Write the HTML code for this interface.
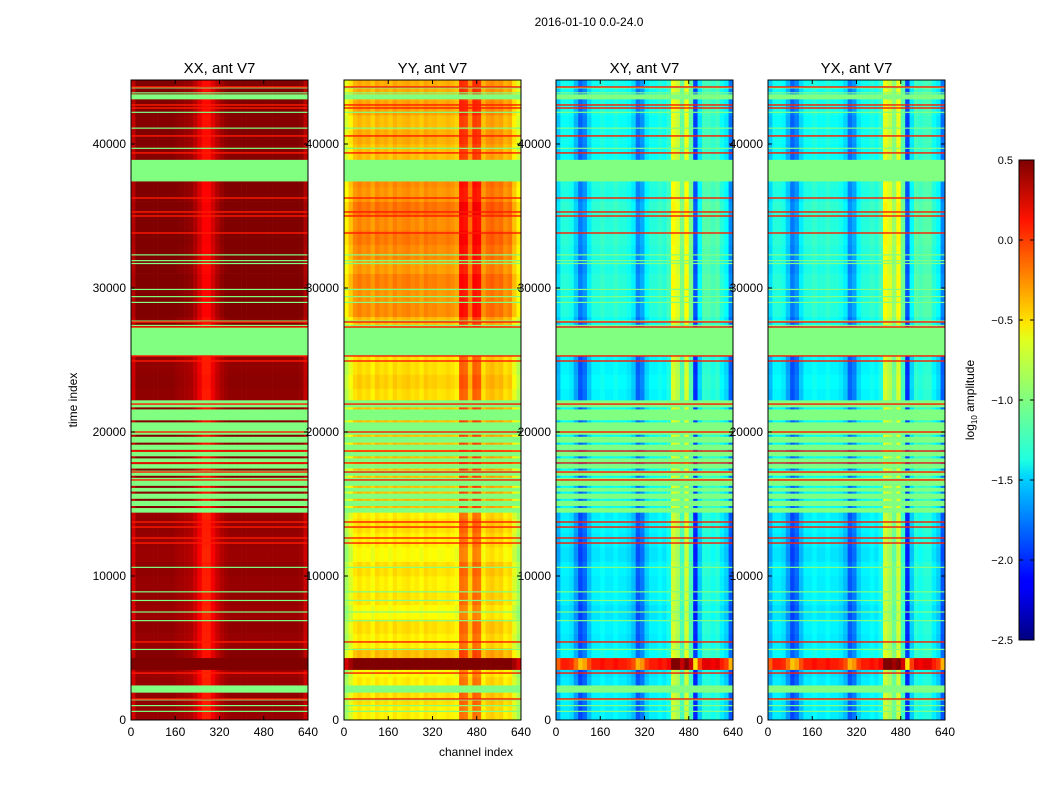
<!DOCTYPE html>
<html><head><meta charset="utf-8">
<style>
body{margin:0;background:#fff;}
svg{display:block;font-family:"Liberation Sans",sans-serif;}
</style></head>
<body>
<svg id="fig" width="1050" height="800" xmlns="http://www.w3.org/2000/svg">
<defs>
<linearGradient id="jet" x1="0" y1="1" x2="0" y2="0">
<stop offset="0" stop-color="#00007f"/><stop offset="0.11" stop-color="#0000ff"/>
<stop offset="0.125" stop-color="#0000ff"/><stop offset="0.34" stop-color="#00d5ff"/>
<stop offset="0.375" stop-color="#1fffe0"/><stop offset="0.5" stop-color="#80ff80"/>
<stop offset="0.625" stop-color="#e0ff1f"/><stop offset="0.66" stop-color="#ffe600"/>
<stop offset="0.875" stop-color="#ff1300"/><stop offset="1" stop-color="#7f0000"/>
</linearGradient>
</defs>
<text x="589" y="26" font-size="12" text-anchor="middle">2016-01-10 0.0-24.0</text>
<text x="476" y="756" font-size="12" text-anchor="middle">channel index</text>
<text x="0" y="0" font-size="12" text-anchor="middle" transform="translate(77,400) rotate(-90)">time index</text>
<g id="panels"></g>
<g>
<rect x="1019" y="160" width="15" height="480" fill="url(#jet)" stroke="#000" stroke-width="1"/>
<g id="cbticks"></g>
<text x="0" y="0" font-size="12" text-anchor="middle" transform="translate(974,400) rotate(-90)">log<tspan font-size="8" dy="3">10</tspan><tspan dy="-3"> amplitude</tspan></text>
</g>
</svg>
<script>
const panelTitles = ["XX, ant V7","YY, ant V7","XY, ant V7","YX, ant V7"];
const xTicks = [0,160,320,480,640];
const yTicks = [0,10000,20000,30000,40000];
const cbTicks = [0.5,0.0,-0.5,-1.0,-1.5,-2.0,-2.5];
// channel profiles, 40 bins of 16 channels (log10 amplitude)
const profXX = [0.3,0.48,0.48,0.48,0.48,0.48,0.48,0.48,0.48,0.48,0.45,0.44,0.42,0.4,0.32,0.2,0.08,0.08,0.2,0.32,0.4,0.45,0.48,0.48,0.48,0.48,0.48,0.48,0.48,0.48,0.48,0.48,0.48,0.48,0.48,0.48,0.48,0.48,0.46,0.32];
const profYY = [-0.75,-0.6,-0.45,-0.4,-0.45,-0.42,-0.5,-0.4,-0.45,-0.42,-0.48,-0.4,-0.45,-0.42,-0.4,-0.45,-0.42,-0.48,-0.4,-0.44,-0.42,-0.46,-0.45,-0.42,-0.45,-0.5,-0.05,-0.08,-0.35,-0.05,-0.08,-0.45,-0.35,-0.32,-0.38,-0.35,-0.45,-0.4,-0.6,-0.75];
const profXY = [-1.55,-1.35,-1.35,-1.4,-1.6,-1.85,-1.75,-1.5,-1.35,-1.35,-1.3,-1.35,-1.35,-1.3,-1.35,-1.35,-1.4,-1.5,-1.8,-1.7,-1.45,-1.35,-1.35,-1.3,-1.35,-1.25,-0.7,-0.8,-1.1,-0.7,-1.1,-1.95,-1.45,-1.2,-1.2,-1.25,-1.2,-1.35,-1.45,-1.8];
const profYX = [-1.55,-1.35,-1.35,-1.4,-1.6,-1.85,-1.75,-1.5,-1.35,-1.35,-1.3,-1.35,-1.35,-1.3,-1.35,-1.35,-1.4,-1.5,-1.8,-1.7,-1.45,-1.35,-1.35,-1.3,-1.35,-1.25,-0.7,-0.8,-1.0,-0.7,-1.15,-1.95,-1.45,-1.2,-1.25,-1.2,-1.2,-1.35,-1.45,-1.8];
const gains = [0.3,1.0,0.5,0.5];
// row offsets per 1000 time samples (45 bins)
const rowOff = [-0.15,-0.1,-0.15,-0.2,0,-0.15,-0.1,-0.2,-0.12,-0.15,-0.1,-0.2,-0.15,-0.1,-0.15,-0.15,-0.15,-0.15,-0.15,-0.15,-0.15,-0.15,-0.1,-0.05,-0.1,-0.1,0,0,0.15,0.12,0.18,0.1,0.15,0.2,0.15,0.22,0.12,0.15,0,0,0.05,0.0,0.08,0.05,0.05];
const flagBands = [[37400,38900],[25300,27300],[1900,2400],[43100,43450]];
const quietBands = [[14400,22200]];
const hotBands = [[3500,4300]];
const hotBoost = [1.0,1.0,1.4,1.4];
const quietDataLines = [21650,20750,19750,19200,18700,18250,17850,17400,16900,16200,15800,15300,14800];
const redLines = [43960,42710,42500,40560,39380,36250,35280,35000,33820,27640,27290,25280,24930,21940,20000,18680,17850,17220,16670,13750,13400,12640,12290,5420,3260,1460];
const greenLines = [43900,43550,42200,41100,39700,32300,31900,31700,29900,29400,29000,27700,27400,10600,8900,8300,7500,6900,4900,1400,1000,600];
const TMAX = 44444, CH = 640;
const lefts = [131,344,556,768], PW = 177, TOP = 80, PH = 640;
const profs = [profXX,profYY,profXY,profYX];
const NS = "http://www.w3.org/2000/svg";
function ys(t){return TOP+PH - t/TMAX*PH;}
function xs(i,c){return lefts[i] + c/CH*PW;}
function jet(v){
  let x=(v+2.5)/3; x=Math.max(0,Math.min(1,x));
  const cl=a=>Math.round(255*Math.max(0,Math.min(1,a)));
  return `rgb(${cl(1.5-Math.abs(4*x-3))},${cl(1.5-Math.abs(4*x-2))},${cl(1.5-Math.abs(4*x-1))})`;
}
function el(tag,attrs,parent){const e=document.createElementNS(NS,tag);for(const k in attrs)e.setAttribute(k,attrs[k]);parent.appendChild(e);return e;}
const root=document.getElementById('panels');
function rowRects(g,i,t0,t1,valFn){
  const prof=profs[i], nb=prof.length;
  for(let b=0;b<nb;b++){
    const c0=b*CH/nb, c1=(b+1)*CH/nb;
    const r=el('rect',{x:xs(i,c0),y:ys(t1),width:xs(i,c1)-xs(i,c0)+0.3,height:Math.max(1,ys(t0)-ys(t1)+0.3),fill:jet(valFn(prof[b]))},g);
    
    
  }
}
function fullLine(g,i,t,h,color,name){
  const r=el('rect',{x:xs(i,0),y:ys(t)-h/2,width:PW,height:h,fill:color},g);
  
  
}
for(let i=0;i<4;i++){
  const g=el('g',{},root);
  
  
  for(let k=0;k<rowOff.length;k++){
    const t0=k*1000,t1=Math.min(TMAX,(k+1)*1000);
    rowRects(g,i,t0,t1,p=>p+rowOff[k]*gains[i]);
  }
  quietBands.forEach(b=>{
    const r=el('rect',{x:xs(i,0),y:ys(b[1]),width:PW,height:ys(b[0])-ys(b[1]),fill:jet(-1.0)},g);
    
    
  });
  quietDataLines.forEach(t=>rowRects(g,i,t-60,t+60,p=>p));
  flagBands.forEach(b=>{
    const r=el('rect',{x:xs(i,0),y:ys(b[1]),width:PW,height:ys(b[0])-ys(b[1]),fill:jet(-1.0)},g);
    
    
  });
  hotBands.forEach(b=>rowRects(g,i,b[0],b[1],p=>p+hotBoost[i]));
  greenLines.forEach(t=>fullLine(g,i,t,1.2,jet(-1.0),'flag-line'));
  redLines.forEach(t=>fullLine(g,i,t,1.4,jet(0.05),'red-line'));
  const f=el('rect',{x:lefts[i],y:TOP,width:PW,height:PH,fill:'none',stroke:'#000','stroke-width':1},g);
  
  
  const tt=el('text',{x:lefts[i]+PW/2,y:TOP-7,'font-size':15,'text-anchor':'middle'},g);
  tt.textContent=panelTitles[i];
  
  
  xTicks.forEach(v=>{
    const x=xs(i,v);
    el('line',{x1:x,y1:TOP+PH,x2:x,y2:TOP+PH-4,stroke:'#000'},g);
    el('line',{x1:x,y1:TOP,x2:x,y2:TOP+4,stroke:'#000'},g);
    const l=el('text',{x:x,y:TOP+PH+16,'font-size':12,'text-anchor':'middle'},g);
    l.textContent=v;
    
    
  });
  yTicks.forEach(v=>{
    const y=ys(v);
    el('line',{x1:lefts[i],y1:y,x2:lefts[i]+4,y2:y,stroke:'#000'},g);
    el('line',{x1:lefts[i]+PW,y1:y,x2:lefts[i]+PW-4,y2:y,stroke:'#000'},g);
    const l=el('text',{x:lefts[i]-5,y:y+4,'font-size':12,'text-anchor':'end'},g);
    l.textContent=v;
    
    
  });
}
const cbg=document.getElementById('cbticks');
cbTicks.forEach(v=>{
  const y=160+(0.5-v)/3*480;
  el('line',{x1:1019,y1:y,x2:1023,y2:y,stroke:'#000'},cbg);
  el('line',{x1:1034,y1:y,x2:1030,y2:y,stroke:'#000'},cbg);
  const l=el('text',{x:1013,y:y+4,'font-size':11,'text-anchor':'end'},cbg);
  l.textContent=(v<0?'\u2212':'')+Math.abs(v).toFixed(1);
  
  
});
</script>
</body></html>
